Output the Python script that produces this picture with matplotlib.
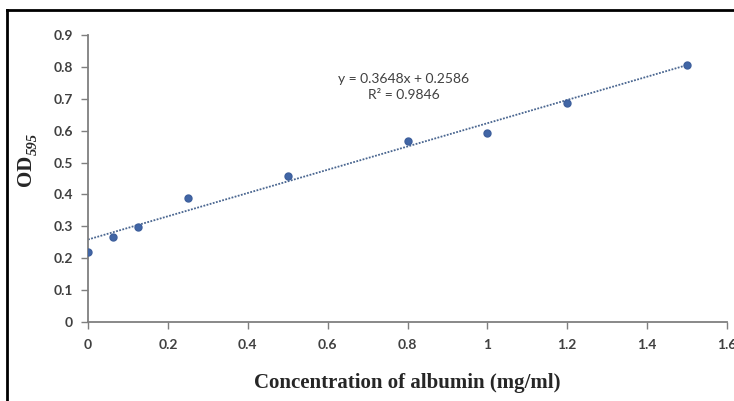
import matplotlib
matplotlib.use("Agg")
import matplotlib.pyplot as plt
from matplotlib.lines import Line2D

# albumin standard curve
conc = [0, 0.0625, 0.125, 0.25, 0.5, 0.8, 1.0, 1.2, 1.5]
od595 = [0.22, 0.266, 0.298, 0.39, 0.459, 0.568, 0.592, 0.686, 0.805]
slope = 0.3648
intercept = 0.2586
r2 = 0.9846

xticks = [0, 0.2, 0.4, 0.6, 0.8, 1, 1.2, 1.4, 1.6]
xticklabels = ["0", "0.2", "0.4", "0.6", "0.8", "1", "1.2", "1.4", "1.6"]
yticks = [0, 0.1, 0.2, 0.3, 0.4, 0.5, 0.6, 0.7, 0.8, 0.9]
yticklabels = ["0", "0.1", "0.2", "0.3", "0.4", "0.5", "0.6", "0.7", "0.8", "0.9"]

fig = plt.figure(figsize=(7.34, 4.01), dpi=100)
ax = fig.add_axes([0.1199, 0.197, 0.8706, 0.7157])

# trendline
x_fit = [0, 1.5]
y_fit = [slope * v + intercept for v in x_fit]
ax.plot(x_fit, y_fit, linestyle=(0, (1, 0.8)), color="#4a6690", linewidth=1.3, zorder=2)
ax.plot(conc, od595, linestyle="none", marker="o", markersize=5,
        color="#4166a6", markeredgecolor="#3d5f9c", zorder=3)

ax.set_xlim(0, 1.6)
ax.set_ylim(0, 0.9)
ax.set_xticks(xticks)
ax.set_xticklabels(xticklabels)
ax.set_yticks(yticks)
ax.set_yticklabels(yticklabels)

for side in ["top", "right"]:
    ax.spines[side].set_visible(False)
for side in ["left", "bottom"]:
    ax.spines[side].set_color("#7f7f7f")
    ax.spines[side].set_linewidth(1.3)

ax.tick_params(axis="both", direction="out", length=5, width=1, color="#7f7f7f",
               labelcolor="#404040")
ax.tick_params(axis="x", pad=7)
ax.tick_params(axis="y", pad=6)
for lab in ax.get_xticklabels() + ax.get_yticklabels():
    lab.set_fontfamily("Lato")
    lab.set_fontweight("bold")
    lab.set_fontsize(10)

ax.text(0.79, 0.737, "y = %.4fx + %.4f\nR² = %.4f" % (slope, intercept, r2),
        ha="center", va="center", fontsize=10, family="Lato",
        color="#404040", linespacing=1.35)

fig.text(0.555, 0.045, "Concentration of albumin (mg/ml)", ha="center", va="center",
         fontsize=15, fontweight="bold", family="Liberation Serif", color="#262626")
# y label: OD with italic subscript
fig.text(0.0354, 0.576, "OD", ha="center", va="center", rotation=90,
         fontsize=15, fontweight="bold", family="Liberation Serif", color="#262626")
fig.text(0.046, 0.641, "595", ha="center", va="center", rotation=90,
         fontsize=10.5, fontweight="bold", fontstyle="italic",
         family="Liberation Serif", color="#262626")

# outer frame
fig.add_artist(Line2D([0.0095, 1.0], [0.975, 0.975], transform=fig.transFigure,
                      color="black", linewidth=2))
fig.add_artist(Line2D([0.0095, 0.0095], [0.0, 0.975], transform=fig.transFigure,
                      color="black", linewidth=2))

fig.savefig("out.png", dpi=100)
